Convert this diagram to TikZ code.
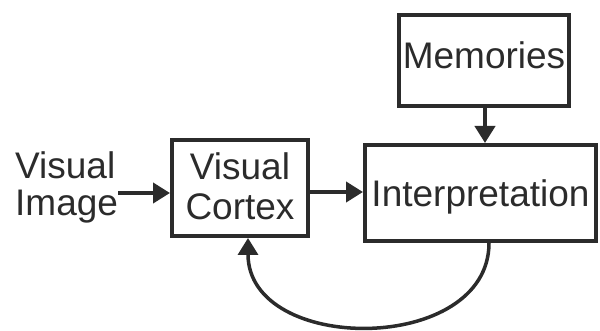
\documentclass[tikz,border=0pt]{standalone}
\usepackage{fontspec}
\setmainfont{Liberation Sans}
\usetikzlibrary{arrows.meta}
\definecolor{ink}{HTML}{2B2B2B}
\begin{document}
\begin{tikzpicture}[x=1pt,y=-1pt,
  box/.style={draw=ink,line width=4pt,inner sep=0pt,align=center,text=ink,font=\fontsize{37}{40}\selectfont},
  lab/.style={inner sep=0pt,align=left,text=ink,font=\fontsize{37}{37}\selectfont},
  arr/.style={draw=ink,line width=4pt,-{Triangle[length=17pt,width=20pt]}}]
\useasboundingbox (0,0) rectangle (600,331);
\node[lab,anchor=west] (img) at (15,187) {Visual\\Image};
\node[box,minimum width=136pt,minimum height=96pt,text depth=3pt] (cortex) at (240,188) {Visual\\Cortex};
\node[box,minimum width=170pt,minimum height=91pt,text height=27pt,text depth=10pt] (mem) at (484,60.5) {Memories};
\node[box,minimum width=231pt,minimum height=96pt,text height=27pt,text depth=0pt] (interp) at (480.5,193) {Interpretation};
\draw[arr] (img.east |- 0,193) -- (cortex.west |- 0,193);
\draw[arr] (cortex.east |- 0,192) -- (interp.west |- 0,192);
\draw[arr] (mem.south -| 485,0) -- (interp.north -| 485,0);
\coordinate (cs) at (interp.south -| 489,0);
\coordinate (ce) at (cortex.south -| 248,0);
\draw[arr,line width=3.5pt] (cs) .. controls (489,355) and (248,355) .. (ce);
\end{tikzpicture}
\end{document}
